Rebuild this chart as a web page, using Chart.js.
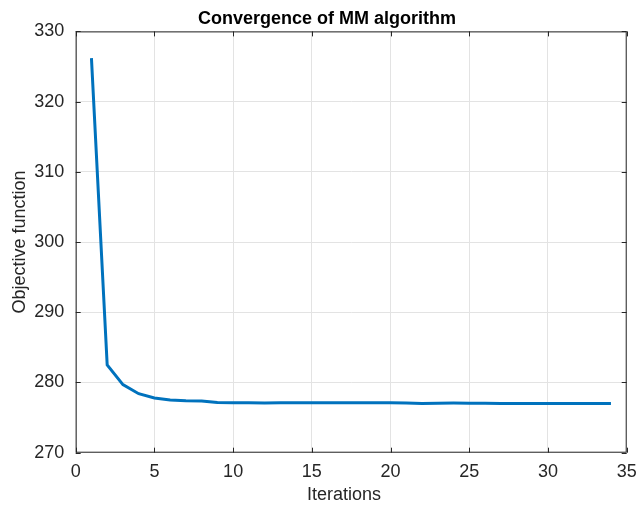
<!DOCTYPE html>
<html>
<head>
<meta charset="utf-8">
<script src="https://cdn.jsdelivr.net/npm/chart.js@4"></script>
<style>
  body { margin: 0; background: #fff; }
  #wrap { width: 636px; height: 506px; }
</style>
</head>
<body>
<div id="wrap"><canvas id="mm-chart"></canvas></div>
<script>
'use strict';

// data
let iterations = [1, 2, 3, 4, 5, 6, 7, 8, 9, 10, 11, 12, 13, 14, 15, 16, 17, 18, 19, 20, 21, 22, 23, 24, 25, 26, 27, 28, 29, 30, 31, 32, 33, 34];
let objective = [326.2, 282.5, 279.7, 278.4, 277.8, 277.5, 277.4, 277.35, 277.15, 277.1, 277.1, 277.08, 277.1, 277.1, 277.12, 277.13, 277.13, 277.12, 277.1, 277.1, 277.08, 277.02, 277.05, 277.07, 277.06, 277.04, 277.02, 277.01, 277.0, 277.0, 277.0, 277.0, 277.0, 277.0];
let xTicks = [0, 5, 10, 15, 20, 25, 30, 35];
let yTicks = [270, 280, 290, 300, 310, 320, 330];
let chartTitle = 'Convergence of MM algorithm';
let xLabel = 'Iterations';

let axisColor = '#262626';
let fontFamily = '"Liberation Sans", Arial, Helvetica, sans-serif';

// box around the axes + matlab style inward ticks + title and x label
let boxPlugin = {
  id: 'boxPlugin',
  afterDraw(chart) {
    let c = chart.ctx;
    let a = chart.chartArea;
    let xs = chart.scales.x;
    let ys = chart.scales.y;
    let len = 5;
    c.save();
    c.strokeStyle = axisColor;
    c.lineWidth = 1;
    c.strokeRect(a.left + 0.5, a.top + 0.5, a.right - a.left - 1, a.bottom - a.top - 1);
    c.beginPath();
    xTicks.forEach(function (v) {
      let px = Math.round(xs.getPixelForValue(v)) + 0.5;
      c.moveTo(px, a.bottom); c.lineTo(px, a.bottom - len);
      c.moveTo(px, a.top); c.lineTo(px, a.top + len);
    });
    yTicks.forEach(function (v) {
      let py = Math.round(ys.getPixelForValue(v)) + 0.5;
      c.moveTo(a.left, py); c.lineTo(a.left + len, py);
      c.moveTo(a.right, py); c.lineTo(a.right - len, py);
    });
    c.stroke();

    // title and x label sit a bit left of the axes centre in the original
    c.textAlign = 'center';
    c.textBaseline = 'alphabetic';
    c.fillStyle = '#000';
    c.font = 'bold 18px ' + fontFamily;
    c.fillText(chartTitle, 327, 24.3);
    c.fillStyle = axisColor;
    c.font = '18px ' + fontFamily;
    c.fillText(xLabel, 344, 499.5);
    c.restore();
  }
};

let ctx = document.getElementById('mm-chart');

new Chart(ctx, {
  type: 'line',
  data: {
    labels: iterations,
    datasets: [{
      data: iterations.map(function (it, i) { return { x: it, y: objective[i] }; }),
      borderColor: '#0072BD',
      borderWidth: 3,
      pointRadius: 0,
      tension: 0,
      fill: false
    }]
  },
  options: {
    responsive: true,
    maintainAspectRatio: false,
    animation: false,
    layout: { padding: { left: 0, right: 9.3, top: 31.4, bottom: 0 } },
    plugins: {
      legend: { display: false },
      tooltip: { enabled: false },
      title: { display: false }
    },
    scales: {
      x: {
        type: 'linear',
        min: 0,
        max: 35,
        afterBuildTicks: function (scale) { scale.ticks = xTicks.map(function (v) { return { value: v }; }); },
        afterFit: function (scale) {
          scale.height = 53.3;
          scale.paddingLeft = 0;
          scale.paddingRight = 0;
        },
        grid: { color: '#e3e3e3', drawTicks: false },
        border: { display: false },
        ticks: { color: axisColor, padding: 9, maxRotation: 0, font: { family: fontFamily, size: 18 } },
        title: { display: false }
      },
      y: {
        min: 270,
        max: 330,
        afterBuildTicks: function (scale) { scale.ticks = yTicks.map(function (v) { return { value: v }; }); },
        afterFit: function (scale) {
          scale.width = 75.7;
          scale.paddingTop = 0;
          scale.paddingBottom = 0;
        },
        grid: { color: '#e3e3e3', drawTicks: false },
        border: { display: false },
        ticks: { color: axisColor, padding: 11.4, font: { family: fontFamily, size: 18 } },
        title: {
          display: true,
          text: 'Objective function',
          color: axisColor,
          font: { family: fontFamily, size: 18 },
          padding: { top: 9, bottom: 0 }
        }
      }
    }
  },
  plugins: [boxPlugin]
});
</script>
</body>
</html>
